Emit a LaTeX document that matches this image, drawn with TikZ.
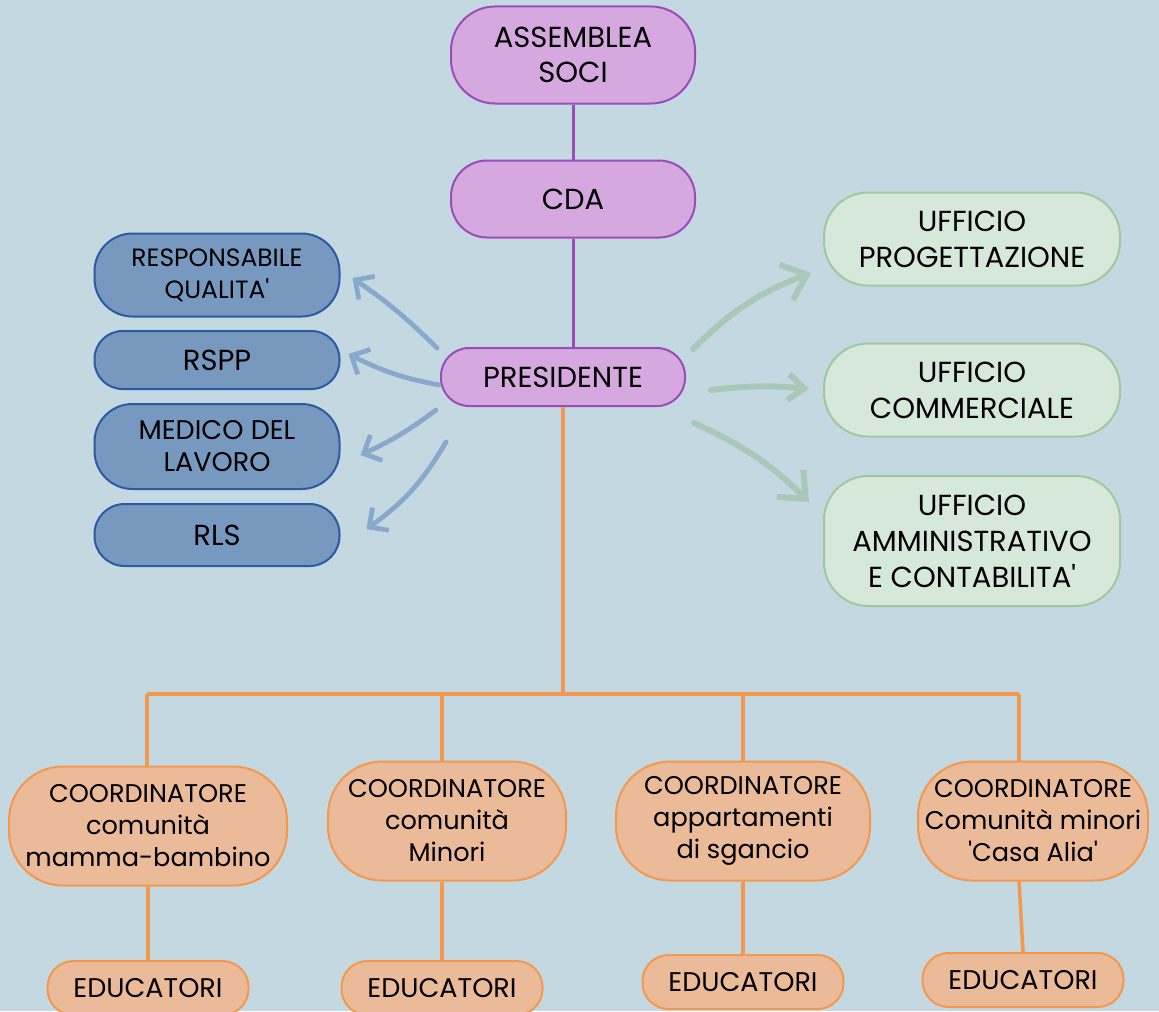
\documentclass[tikz,border=0pt]{standalone}
\usepackage{fontspec}
\setmainfont{Poppins}
\usetikzlibrary{arrows.meta, positioning, calc}
\definecolor{sfondo}{HTML}{C4D8E2}
\definecolor{viola}{HTML}{D6A8E0}
\definecolor{violabordo}{HTML}{9A4DB8}
\definecolor{blu}{HTML}{7799C0}
\definecolor{blubordo}{HTML}{2D5AA0}
\definecolor{blufreccia}{HTML}{88A8CC}
\definecolor{verde}{HTML}{D5E8DA}
\definecolor{verdebordo}{HTML}{A0C8A0}
\definecolor{verdefreccia}{HTML}{A8C8B8}
\definecolor{arancio}{HTML}{EBBA98}
\definecolor{aranciobordo}{HTML}{F3994F}
\newcommand{\apo}{\textquotesingle}

\begin{document}
\begin{tikzpicture}[x=0.5pt, y=0.5pt,
  box/.style={draw, line width=1pt, align=center, inner sep=0pt, text=black, font=\fontsize{14.5}{17.5}\selectfont},
  vertice/.style={box, fill=viola, draw=violabordo, minimum width=122pt},
  staff/.style={box, fill=blu, draw=blubordo, minimum width=122.5pt},
  ufficio/.style={box, fill=verde, draw=verdebordo, minimum width=148pt, minimum height=46.5pt, rounded corners=22pt, font=\fontsize{14.5}{18}\selectfont},
  coord/.style={box, fill=arancio, draw=aranciobordo, minimum height=59.5pt, rounded corners=27pt, font=\fontsize{12.8}{16}\selectfont},
  edu/.style={box, fill=arancio, draw=aranciobordo, minimum width=100.5pt, minimum height=27pt, rounded corners=13pt, font=\fontsize{13.5}{16}\selectfont},
  asse/.style={line width=1.5pt, draw=violabordo},
  albero/.style={line width=1.8pt, draw=aranciobordo},
  frecciablu/.style={line width=2.4pt, draw=blufreccia, line cap=round, -{Straight Barb[length=7pt, width=14pt]}},
  frecciaverde/.style={line width=3pt, draw=verdefreccia, line cap=round, -{Straight Barb[length=11pt, width=19pt]}}]
\fill[sfondo] (0,0) rectangle (1159,-1011);
\useasboundingbox (0,0) rectangle (1159,-1011);

\node[vertice, minimum height=48.5pt, rounded corners=22pt] (assemblea) at (573,-55) {ASSEMBLEA\\SOCI};
\node[vertice, minimum height=38.5pt, rounded corners=18pt] (cda) at (573,-199) {CDA};
\node[vertice, minimum height=29pt, rounded corners=14pt] (presidente) at (563,-377) {PRESIDENTE};
\draw[asse] (assemblea) -- (cda);
\draw[asse] (cda.south) -- (presidente.north -| cda.south);

\node[staff, minimum height=41.5pt, rounded corners=19pt, font=\fontsize{12.5}{16}\selectfont] (qualita) at (217,-275) {RESPONSABILE\\QUALITA\apo};
\node[staff, minimum height=29pt, rounded corners=14pt] (rspp) at (217,-360) {RSPP};
\node[staff, minimum height=42.5pt, rounded corners=19pt, font=\fontsize{13.5}{16}\selectfont] (medico) at (217,-446.5) {MEDICO DEL\\LAVORO};
\node[staff, minimum height=31pt, rounded corners=15pt] (rls) at (217,-535) {RLS};

\node[ufficio] (progettazione) at (972,-239) {UFFICIO\\PROGETTAZIONE};
\node[ufficio] (commerciale) at (972,-390) {UFFICIO\\COMMERCIALE};
\node[ufficio, minimum height=65pt] (amministrativo) at (972,-541) {UFFICIO\\AMMINISTRATIVO\\E CONTABILITA\apo};

\draw[frecciablu] ($(presidente.north west)+(-3,-1)$) to[bend right=5] ($(qualita.east)+(12,-3)$);
\draw[frecciablu] ($(presidente.west)+(-1,-8)$) to[bend left=8] ($(rspp.east)+(8,6)$);
\draw[frecciablu] ($(presidente.south west)+(-4,-3)$) to[bend left=6] ($(medico.east)+(20,-8.5)$);
\draw[frecciablu] ($(presidente.south west)+(6,-35)$) to[bend left=12] ($(rls.east)+(26,6)$);

\draw[frecciaverde] ($(presidente.north east)+(7,-2)$) to[bend left=12] ($(progettazione.west)+(-12,-34)$);
\draw[frecciaverde, -{Straight Barb[length=8pt, width=13pt]}] ($(presidente.east)+(25,-13)$) to[bend left=6] ($(commerciale.west)+(-14,1)$);
\draw[frecciaverde] ($(presidente.south east)+(8,-16)$) to[bend left=10] ($(amministrativo.west)+(-14,39)$);

\node[coord, minimum width=139pt] (c1) at (148,-826) {COORDINATORE\\comunità\\mamma-bambino};
\node[coord, minimum width=119pt] (c2) at (447,-821) {COORDINATORE\\comunità\\Minori};
\node[coord, minimum width=127pt] (c3) at (743,-821) {COORDINATORE\\appartamenti\\di sgancio};
\node[coord, minimum width=115pt] (c4) at (1033,-821) {COORDINATORE\\Comunità minori\\\apo Casa Alia\apo};

\node[edu] (e1) at (148,-988) {EDUCATORI};
\node[edu] (e2) at (442,-988) {EDUCATORI};
\node[edu] (e3) at (743,-982) {EDUCATORI};
\node[edu] (e4) at (1023,-980) {EDUCATORI};

\coordinate (nodo) at (563,-694);
\coordinate (b1) at (147,-694);
\coordinate (b2) at (442,-694);
\coordinate (b3) at (743,-694);
\coordinate (b4) at (1019,-694);
\draw[albero] (presidente.south) -- (nodo);
\draw[albero] (b1) -- (b4);
\draw[albero] (b1) -- (b1 |- c1.north);
\draw[albero] (b2) -- (b2 |- c2.north);
\draw[albero] (b3) -- (b3 |- c3.north);
\draw[albero] (b4) -- (b4 |- c4.north);
\draw[albero] (c1.south) -- (e1.north);
\draw[albero] (c2.south -| e2.north) -- (e2.north);
\draw[albero] (c3.south) -- (e3.north);
\draw[albero] (b4 |- c4.south) -- (e4.north);
\end{tikzpicture}
\end{document}
